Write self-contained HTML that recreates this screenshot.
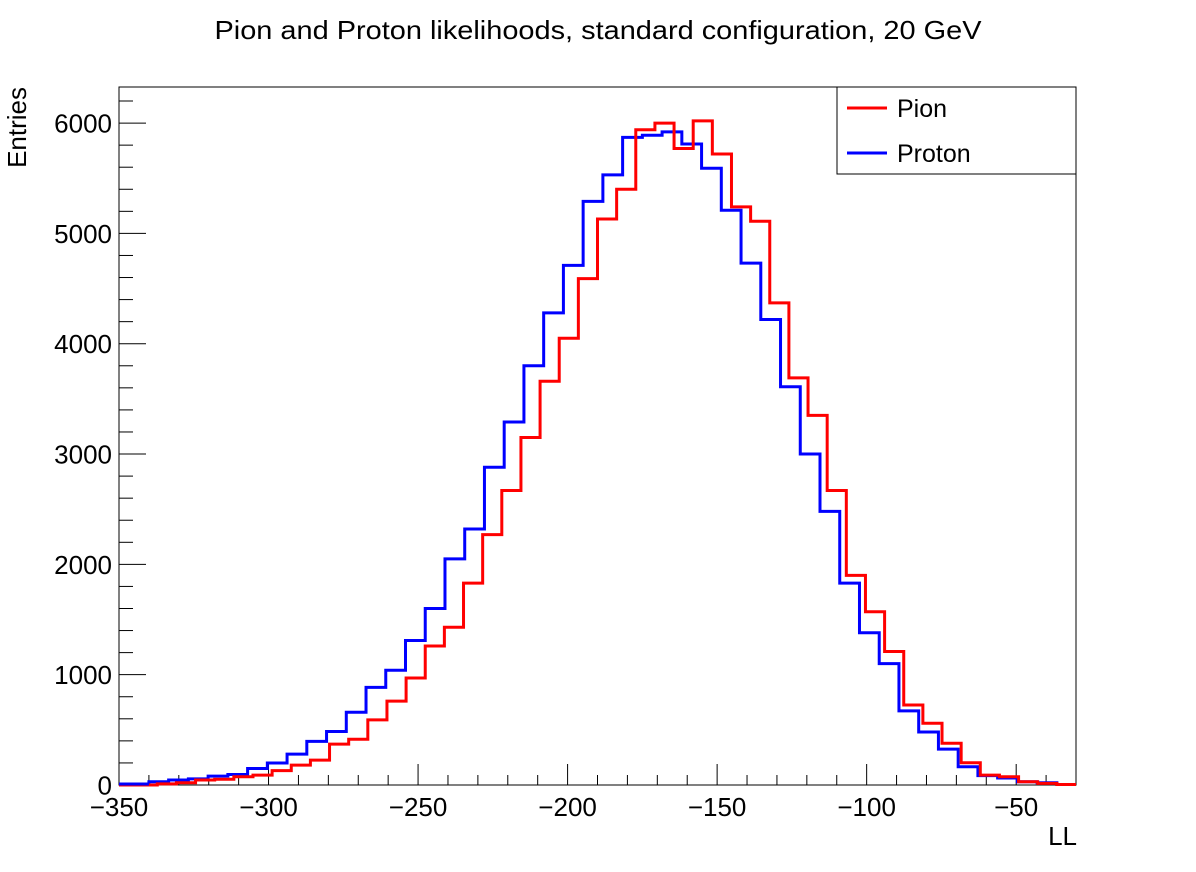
<!DOCTYPE html>
<html><head><meta charset="utf-8"><style>
html,body{margin:0;padding:0;background:#fff;}
svg{display:block;font-family:"Liberation Sans",sans-serif;}
</style></head><body>
<svg id="chart" width="1196" height="872" viewBox="0 0 1196 872">
<text x="598" y="39" font-size="26" text-anchor="middle" textLength="767" lengthAdjust="spacingAndGlyphs">Pion and Proton likelihoods, standard configuration, 20 GeV</text>
<rect x="119" y="87" width="957" height="698" fill="none" stroke="#000" stroke-width="1"/>
<g id="axes"></g>
<g id="series"></g>
<text x="1077" y="845" font-size="26" text-anchor="end">LL</text>
<text transform="translate(26,87) rotate(-90)" font-size="26" text-anchor="end">Entries</text>
<g>
<rect x="837" y="87" width="239" height="87" fill="#fff" stroke="#000" stroke-width="1"/>
<line x1="847" y1="108" x2="887" y2="108" stroke="#f00" stroke-width="3"/>
<text x="897" y="117" font-size="25">Pion</text>
<line x1="847" y1="153" x2="887" y2="153" stroke="#00f" stroke-width="3"/>
<text x="897" y="162" font-size="25">Proton</text>
</g>
</svg>
<script>
const xTicks = [-350,-300,-250,-200,-150,-100,-50];
const yTicks = [0,1000,2000,3000,4000,5000,6000];
const pionRange = [-350,-30];
const protonRange = [-340,-10];
const pionValues = [0,0,10,20,45,52,75,90,130,180,225,370,415,590,760,970,1260,1430,1830,2270,2670,3150,3660,4050,4590,5130,5400,5940,6000,5770,6020,5720,5240,5110,4370,3690,3350,2670,1900,1570,1210,725,560,378,202,90,75,30,15,5];
const protonValues = [30,45,55,80,95,150,200,280,395,485,660,885,1040,1310,1600,2050,2320,2880,3290,3800,4280,4710,5290,5530,5870,5890,5920,5810,5590,5210,4730,4220,3610,3000,2480,1830,1380,1100,672,480,325,166,85,63,30,20,5,0,0,0];

const X0=119,X1=1076,Y0=785,YT=87;
const xMin=-350,xMax=-30,yMax=6327;
function sx(v){return X0+(v-xMin)/(xMax-xMin)*(X1-X0);}
function sy(v){return Y0-v/yMax*(Y0-YT);}
const NS="http://www.w3.org/2000/svg";
const axes=document.getElementById('axes');
const ser=document.getElementById('series');
function mk(tag,attrs,parent){const e=document.createElementNS(NS,tag);for(const k in attrs)e.setAttribute(k,attrs[k]);parent.appendChild(e);return e;}

for(let v=xMin;v<=xMax;v+=10){
  const major=(v%50===0);
  const l=mk('line',{x1:sx(v),x2:sx(v),y1:Y0,y2:Y0-(major?21:10),stroke:'#000','stroke-width':1},axes);
  
  
}
xTicks.forEach(v=>{
  const t=mk('text',{x:sx(v),y:816,'font-size':26,'text-anchor':'middle'},axes);
  t.textContent=(v<0?'\u2212':'')+Math.abs(v);
  
  
});
for(let v=0;v<=yMax;v+=200){
  const major=(v%1000===0);
  const l=mk('line',{x1:X0,x2:X0+(major?27:14),y1:sy(v),y2:sy(v),stroke:'#000','stroke-width':1},axes);
  
  
}
yTicks.forEach(v=>{
  const t=mk('text',{x:112,y:sy(v)+9.5,'font-size':26,'text-anchor':'end'},axes);
  t.textContent=String(v);
  
  
});

function stepPath(vals,range){
  const w=(range[1]-range[0])/vals.length;
  let d='M'+sx(range[0]).toFixed(2)+','+sy(0).toFixed(2);
  for(let i=0;i<vals.length;i++){
    let a=range[0]+i*w,b=a+w;
    if(a>=xMax)break;
    if(b>xMax)b=xMax;
    const y=sy(vals[i]).toFixed(2);
    d+=' L'+sx(a).toFixed(2)+','+y+' L'+sx(b).toFixed(2)+','+y;
  }
  return d;
}
const pp=mk('path',{d:stepPath(protonValues,protonRange),fill:'none',stroke:'#00f','stroke-width':3},ser);


const pi=mk('path',{d:stepPath(pionValues,pionRange),fill:'none',stroke:'#f00','stroke-width':3},ser);


const bl=mk('line',{x1:X0,x2:sx(protonRange[0]),y1:Y0-1,y2:Y0-1,stroke:'#00f','stroke-width':3},ser);


</script>
</body></html>
